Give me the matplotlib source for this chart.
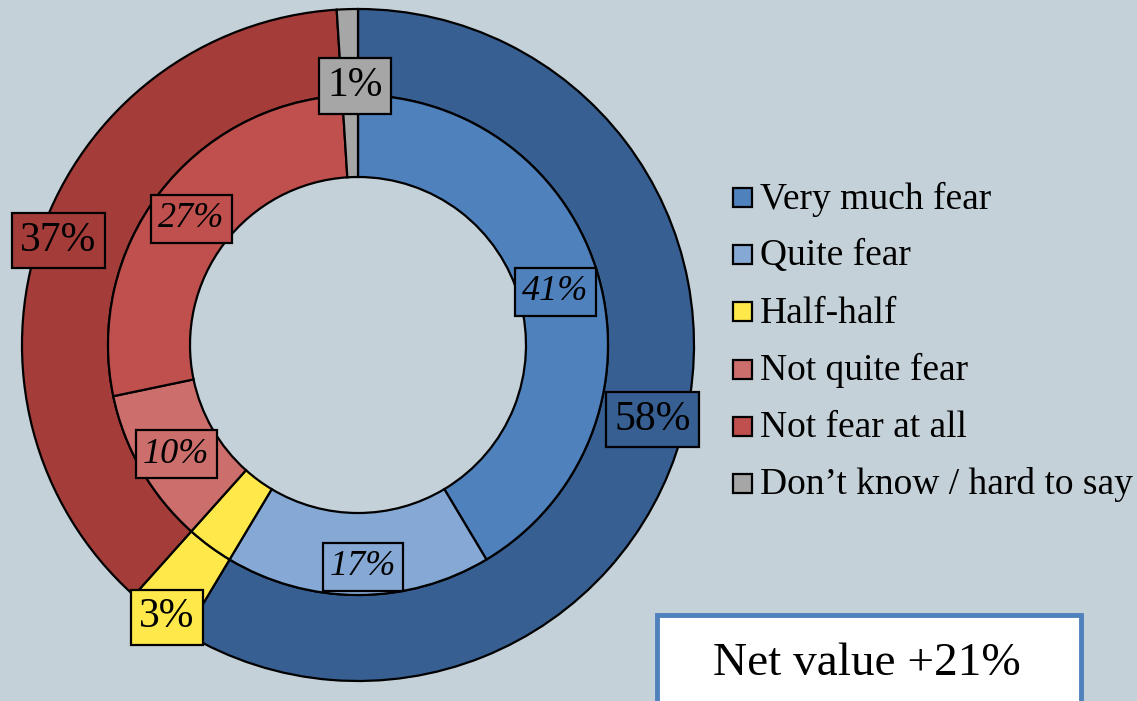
import numpy as np
import matplotlib
matplotlib.use("Agg")
import matplotlib.pyplot as plt
from matplotlib.patches import Rectangle

# data
categories = ["Very much fear", "Quite fear", "Half-half", "Not quite fear",
              "Not fear at all", "Don\u2019t know / hard to say"]
inner_values = [41, 17, 3, 10, 27, 1]
outer_values = [58, 3, 37, 1]

inner_colors = ["#4F81BD", "#86A8D5", "#FFE84A", "#CC6F6C", "#C0504D", "#A6A6A6"]
outer_colors = ["#375F92", "#FFE84A", "#A43D3A", "#A6A6A6"]
bg = "#C5D1D8"

W, H = 1137, 701
fig = plt.figure(figsize=(W / 100, H / 100), dpi=100, facecolor=bg)
ax = fig.add_axes([0, 0, 1, 1])
ax.set_facecolor(bg)

cx, cy = 358, H - 345
r_out, r_mid, r_in = 336, 250, 168

wedge_kw = dict(edgecolor="black", linewidth=1.6)
ax.pie(outer_values, radius=r_out, center=(cx, cy), colors=outer_colors,
       startangle=90, counterclock=False,
       wedgeprops=dict(width=r_out - r_mid, **wedge_kw))
ax.pie(inner_values, radius=r_mid, center=(cx, cy), colors=inner_colors,
       startangle=90, counterclock=False,
       wedgeprops=dict(width=r_mid - r_in, **wedge_kw))
ax.set_xlim(0, W)
ax.set_ylim(0, H)
ax.set_aspect("equal")
ax.axis("off")

serif = ["Liberation Serif", "DejaVu Serif"]


def mid_angles(vals):
    cum = np.cumsum([0] + list(vals))
    return [90 - 360 * (cum[i] + vals[i] / 2) / 100.0 for i in range(len(vals))]


def place(r, a):
    return cx + r * np.cos(np.radians(a)), cy + r * np.sin(np.radians(a))


# inner labels (radius / angle nudges)
in_r = [205, 220, 0, 211, 210, 0]
in_da = [-0.6, -0.5, 0, -1.9, -3.4, 0]
for v, a, c, r, da in zip(inner_values, mid_angles(inner_values), inner_colors, in_r, in_da):
    if r == 0:
        continue
    x, y = place(r, a + da)
    ax.text(x, y - 2, f"{v}%", ha="center", va="center", fontsize=26,
            style="italic", family=serif,
            bbox=dict(boxstyle="square,pad=0.2", fc=c, ec="black", lw=1.6))

# outer labels
out_r = [303, 331, 318, 261]
out_da = [0.6, -1.1, -3.3, -4.7]
for v, a, c, r, da in zip(outer_values, mid_angles(outer_values), outer_colors, out_r, out_da):
    x, y = place(r, a + da)
    ax.text(x, y - 2, f"{v}%", ha="center", va="center", fontsize=30,
            family=serif,
            bbox=dict(boxstyle="square,pad=0.2", fc=c, ec="black", lw=1.6))

# legend
lx, ly0, dy = 733, 198, 57.2
for i, (name, c) in enumerate(zip(categories, inner_colors)):
    y = H - (ly0 + i * dy)
    ax.add_patch(Rectangle((lx, y - 9), 19, 19, fc=c, ec="black", lw=1.6))
    ax.text(lx + 27, y - 1, name, ha="left", va="center", fontsize=27, family=serif)

# net value box
ax.add_patch(Rectangle((657, -5), 424, H - 615 + 5, fc="white", ec="#4F81BD", lw=3.5))
ax.text(867, H - 664, "Net value +21%", ha="center", va="center", fontsize=34,
        family=serif)

fig.savefig("out.png", dpi=100, facecolor=bg)
